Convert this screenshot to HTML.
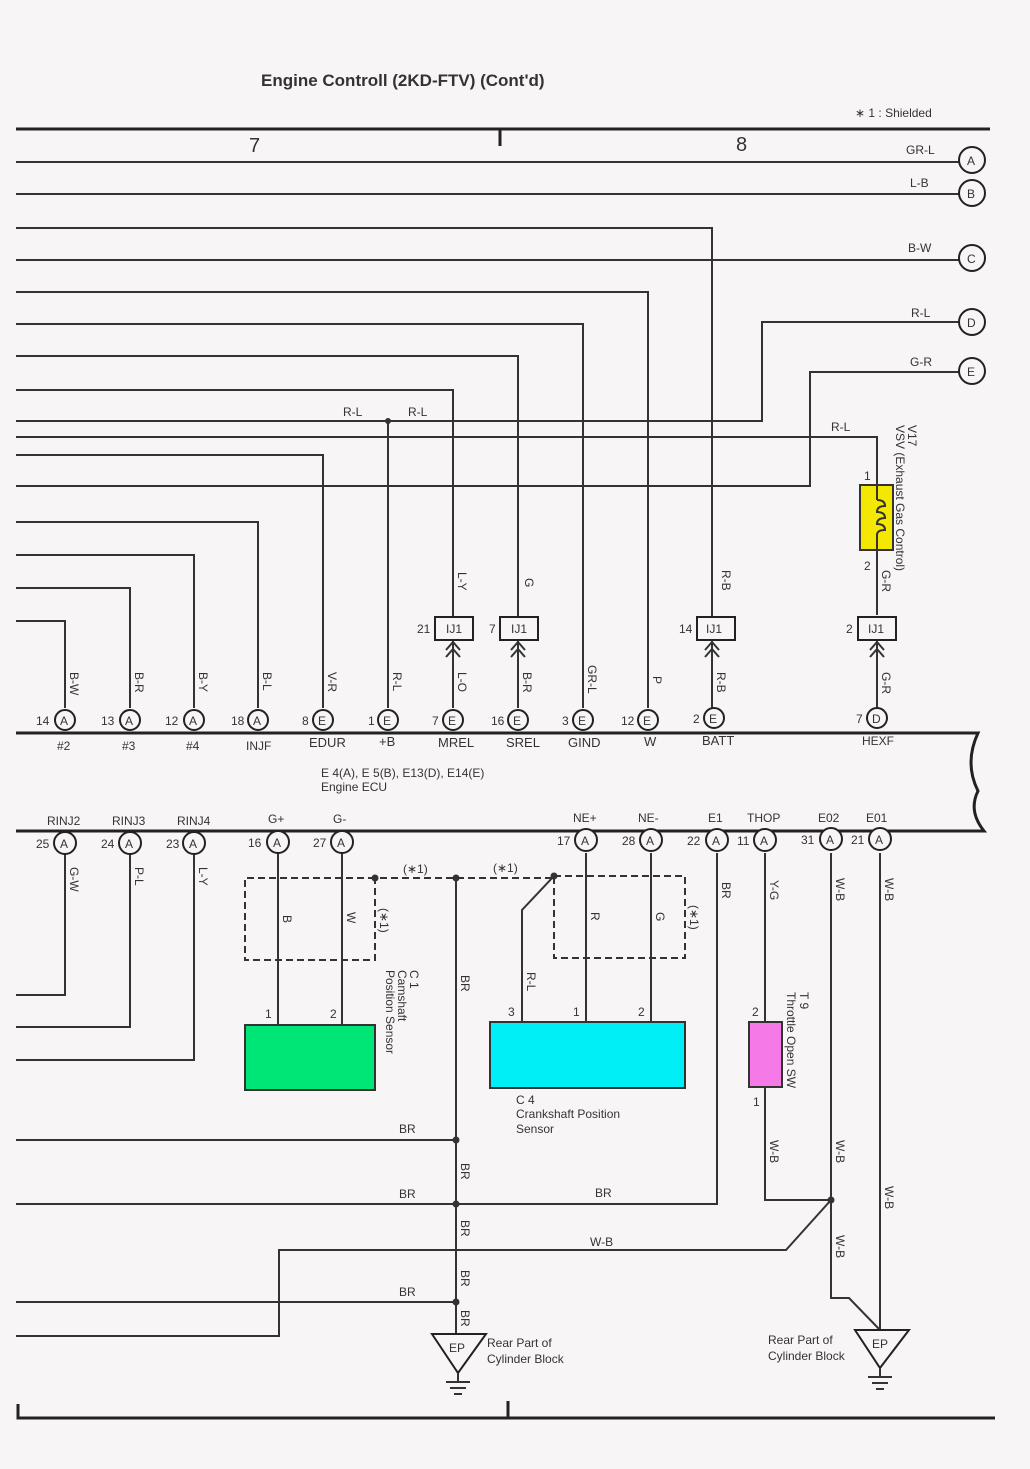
<!DOCTYPE html>
<html><head><meta charset="utf-8"><style>
html,body{margin:0;padding:0;background:#f8f5f6}
svg{display:block}
text{font-family:"Liberation Sans",sans-serif;fill:#333}
.w{stroke:#333;stroke-width:2;fill:none}
.t{stroke:#222;stroke-width:3;fill:none}
.c{stroke:#222;stroke-width:2;fill:#f8f5f6}
.s{font-size:12px}
.m{font-size:13px}
</style></head><body>
<svg width="1030" height="1469" viewBox="0 0 1030 1469" xmlns="http://www.w3.org/2000/svg">
<rect width="1030" height="1469" fill="#f8f5f6"/>
<text x="261" y="86" font-size="17" font-weight="bold" fill="#333">Engine Controll (2KD-FTV) (Cont'd)</text>
<text x="855" y="117" class="s">∗ 1 : Shielded</text>
<line x1="16" y1="129" x2="990" y2="129" class="t"/>
<line x1="500" y1="129" x2="500" y2="146" class="t"/>
<text x="249" y="152" font-size="20">7</text>
<text x="736" y="151" font-size="20">8</text>

<g class="w">
<path d="M16 162H959"/>
<path d="M16 194H959"/>
<path d="M16 228H712V617"/>
<path d="M16 260H959"/>
<path d="M16 292H648V708"/>
<path d="M16 324H583V708"/>
<path d="M959 322H762V421H16"/>
<path d="M16 356H518V617"/>
<path d="M959 372H810V486H16"/>
<path d="M16 390H453V617"/>
<path d="M388 421V708"/>
<path d="M16 437H877V485"/>
<path d="M877 550V615"/>
<path d="M16 455H323V708"/>
<path d="M16 522H258V708"/>
<path d="M16 555H194V708"/>
<path d="M16 588H130V708"/>
<path d="M16 621H65V708"/>
<path d="M453 640V708M518 640V708M712 640V708M877 640V708"/>
</g>
<circle cx="388" cy="421" r="3" fill="#333"/>
<g>
<circle cx="972" cy="160" r="13" class="c"/><text x="967" y="165" class="s">A</text>
<circle cx="972" cy="193" r="13" class="c"/><text x="967" y="198" class="s">B</text>
<circle cx="972" cy="258" r="13" class="c"/><text x="967" y="263" class="s">C</text>
<circle cx="972" cy="322" r="13" class="c"/><text x="967" y="327" class="s">D</text>
<circle cx="972" cy="371" r="13" class="c"/><text x="967" y="376" class="s">E</text>
</g>
<text x="906" y="154" class="s">GR-L</text>
<text x="910" y="187" class="s">L-B</text>
<text x="908" y="252" class="s">B-W</text>
<text x="911" y="317" class="s">R-L</text>
<text x="910" y="366" class="s">G-R</text>
<text x="343" y="416" class="s">R-L</text>
<text x="408" y="416" class="s">R-L</text>
<text x="831" y="431" class="s">R-L</text>

<rect x="860" y="485" width="33" height="65" fill="#f5e800" stroke="#333" stroke-width="2"/>
<path d="M877 485V500M877 535V550M877 500q8 0 8 6q-8 0 -8 6q8 0 8 6q-8 0 -8 6q8 0 8 6q-8 0-8 5" class="w" stroke-width="1.5"/>
<text x="864" y="480" class="s">1</text>
<text x="864" y="570" class="s">2</text>
<text x="908" y="425" class="s" transform="rotate(90 908 425)">V17</text>
<text x="896" y="425" class="s" transform="rotate(90 896 425)">VSV (Exhaust Gas Control)</text>
<text x="882" y="570" class="s" transform="rotate(90 882 570)">G-R</text>
<text x="722" y="570" class="s" transform="rotate(90 722 570)">R-B</text>
<text x="525" y="578" class="s" transform="rotate(90 525 578)">G</text>
<text x="458" y="572" class="s" transform="rotate(90 458 572)">L-Y</text>

<g>
<rect x="435" y="617" width="38" height="23" class="c"/><text x="446" y="633" class="s">IJ1</text><text x="417" y="633" class="s">21</text>
<rect x="500" y="617" width="38" height="23" class="c"/><text x="511" y="633" class="s">IJ1</text><text x="489" y="633" class="s">7</text>
<rect x="697" y="617" width="38" height="23" class="c"/><text x="706" y="633" class="s">IJ1</text><text x="679" y="633" class="s">14</text>
<rect x="858" y="617" width="38" height="23" class="c"/><text x="868" y="633" class="s">IJ1</text><text x="846" y="633" class="s">2</text>
</g>
<g class="w">
<path d="M446 650l7-8 7 8M446 657l7-8 7 8"/>
<path d="M511 650l7-8 7 8M511 657l7-8 7 8"/>
<path d="M705 650l7-8 7 8M705 657l7-8 7 8"/>
<path d="M870 650l7-8 7 8M870 657l7-8 7 8"/>
</g>

<g class="s">
<text x="70" y="672" transform="rotate(90 70 672)">B-W</text>
<text x="135" y="672" transform="rotate(90 135 672)">B-R</text>
<text x="199" y="672" transform="rotate(90 199 672)">B-Y</text>
<text x="263" y="672" transform="rotate(90 263 672)">B-L</text>
<text x="328" y="672" transform="rotate(90 328 672)">V-R</text>
<text x="393" y="672" transform="rotate(90 393 672)">R-L</text>
<text x="458" y="672" transform="rotate(90 458 672)">L-O</text>
<text x="523" y="672" transform="rotate(90 523 672)">B-R</text>
<text x="588" y="665" transform="rotate(90 588 665)">GR-L</text>
<text x="653" y="676" transform="rotate(90 653 676)">P</text>
<text x="717" y="672" transform="rotate(90 717 672)">R-B</text>
<text x="882" y="672" transform="rotate(90 882 672)">G-R</text>
</g>

<path d="M16 733H978q-14 30 0 58q-10 20 6 40H16" fill="#f8f5f6" stroke="#222" stroke-width="3"/>
<g>
<circle cx="65" cy="720" r="10" class="c"/><text x="60" y="725" class="s">A</text><text x="36" y="725" class="s">14</text>
<circle cx="130" cy="720" r="10" class="c"/><text x="125" y="725" class="s">A</text><text x="101" y="725" class="s">13</text>
<circle cx="194" cy="720" r="10" class="c"/><text x="189" y="725" class="s">A</text><text x="165" y="725" class="s">12</text>
<circle cx="258" cy="720" r="10" class="c"/><text x="253" y="725" class="s">A</text><text x="231" y="725" class="s">18</text>
<circle cx="323" cy="720" r="10" class="c"/><text x="318" y="725" class="s">E</text><text x="302" y="725" class="s">8</text>
<circle cx="388" cy="720" r="10" class="c"/><text x="383" y="725" class="s">E</text><text x="368" y="725" class="s">1</text>
<circle cx="453" cy="720" r="10" class="c"/><text x="448" y="725" class="s">E</text><text x="432" y="725" class="s">7</text>
<circle cx="518" cy="720" r="10" class="c"/><text x="513" y="725" class="s">E</text><text x="491" y="725" class="s">16</text>
<circle cx="583" cy="720" r="10" class="c"/><text x="578" y="725" class="s">E</text><text x="562" y="725" class="s">3</text>
<circle cx="648" cy="720" r="10" class="c"/><text x="643" y="725" class="s">E</text><text x="621" y="725" class="s">12</text>
<circle cx="714" cy="718" r="10" class="c"/><text x="709" y="723" class="s">E</text><text x="693" y="723" class="s">2</text>
<circle cx="877" cy="718" r="10" class="c"/><text x="872" y="723" class="s">D</text><text x="856" y="723" class="s">7</text>
</g>
<g class="s">
<text x="57" y="750">#2</text><text x="122" y="750">#3</text><text x="186" y="750">#4</text><text x="246" y="750">INJF</text>
<text x="862" y="745">HEXF</text>
</g>
<g font-size="13">
<text x="309" y="747" fill="#000">EDUR</text><text x="379" y="746" fill="#000">+B</text>
<text x="438" y="747" fill="#000">MREL</text><text x="506" y="747" fill="#000">SREL</text>
<text x="568" y="747" fill="#000">GIND</text><text x="644" y="746" fill="#000">W</text>
<text x="702" y="745" fill="#000">BATT</text>
</g>
<text x="321" y="777" class="s" fill="#555">E 4(A), E 5(B), E13(D), E14(E)</text>
<text x="321" y="791" class="s" fill="#555">Engine ECU</text>
<g class="s">
<text x="47" y="825">RINJ2</text><text x="112" y="825">RINJ3</text><text x="177" y="825">RINJ4</text>
<text x="268" y="823">G+</text><text x="333" y="823">G-</text>
<text x="573" y="822">NE+</text><text x="638" y="822">NE-</text><text x="708" y="822">E1</text>
<text x="747" y="822">THOP</text><text x="818" y="822">E02</text><text x="866" y="822">E01</text>
</g>

<g class="w">
<path d="M65 853V995H16"/>
<path d="M130 853V1027H16"/>
<path d="M194 853V1060H16"/>
<path d="M278 853V1025M342 853V1025"/>
<path d="M456 877V1334"/>
<path d="M586 853V1022M651 853V1022"/>
<path d="M554 876L522 910V1022"/>
<path d="M717 853V1204H16"/>
<path d="M16 1140H456"/>
<path d="M16 1302H456"/>
<path d="M765 853V1022M765 1087V1200H831"/>
<path d="M831 853V1298H849L880 1330"/>
<path d="M880 853V1330"/>
<path d="M831 1200L786 1250H279V1336H16"/>
</g>
<g stroke="#333" stroke-width="2" stroke-dasharray="7,4" fill="none">
<path d="M375 878H245V960H375V878H554"/>
<path d="M554 876H685V958H554Z"/>
</g>
<circle cx="375" cy="878" r="3.5" fill="#333"/>
<circle cx="456" cy="878" r="3.5" fill="#333"/>
<circle cx="554" cy="876" r="3.5" fill="#333"/>
<circle cx="456" cy="1140" r="3.5" fill="#333"/>
<circle cx="456" cy="1204" r="3.5" fill="#333"/>
<circle cx="456" cy="1302" r="3.5" fill="#333"/>
<circle cx="831" cy="1200" r="3.5" fill="#333"/>
<g>
<circle cx="65" cy="843" r="11" class="c"/><text x="60" y="848" class="s">A</text><text x="36" y="848" class="s">25</text>
<circle cx="130" cy="843" r="11" class="c"/><text x="125" y="848" class="s">A</text><text x="101" y="848" class="s">24</text>
<circle cx="194" cy="843" r="11" class="c"/><text x="189" y="848" class="s">A</text><text x="166" y="848" class="s">23</text>
<circle cx="278" cy="842" r="11" class="c"/><text x="273" y="847" class="s">A</text><text x="248" y="847" class="s">16</text>
<circle cx="342" cy="842" r="11" class="c"/><text x="337" y="847" class="s">A</text><text x="313" y="847" class="s">27</text>
<circle cx="586" cy="840" r="11" class="c"/><text x="581" y="845" class="s">A</text><text x="557" y="845" class="s">17</text>
<circle cx="651" cy="840" r="11" class="c"/><text x="646" y="845" class="s">A</text><text x="622" y="845" class="s">28</text>
<circle cx="717" cy="840" r="11" class="c"/><text x="712" y="845" class="s">A</text><text x="687" y="845" class="s">22</text>
<circle cx="765" cy="840" r="11" class="c"/><text x="760" y="845" class="s">A</text><text x="737" y="845" class="s">11</text>
<circle cx="831" cy="839" r="11" class="c"/><text x="826" y="844" class="s">A</text><text x="801" y="844" class="s">31</text>
<circle cx="880" cy="839" r="11" class="c"/><text x="875" y="844" class="s">A</text><text x="851" y="844" class="s">21</text>
</g>
<g class="s">
<text x="70" y="867" transform="rotate(90 70 867)">G-W</text>
<text x="135" y="867" transform="rotate(90 135 867)">P-L</text>
<text x="199" y="867" transform="rotate(90 199 867)">L-Y</text>
<text x="283" y="915" transform="rotate(90 283 915)">B</text>
<text x="347" y="912" transform="rotate(90 347 912)">W</text>
<text x="380" y="908" transform="rotate(90 380 908)">(∗1)</text>
<text x="403" y="873">(∗1)</text><text x="493" y="872">(∗1)</text>
<text x="690" y="905" transform="rotate(90 690 905)">(∗1)</text>
<text x="591" y="912" transform="rotate(90 591 912)">R</text>
<text x="656" y="912" transform="rotate(90 656 912)">G</text>
<text x="527" y="972" transform="rotate(90 527 972)">R-L</text>
<text x="461" y="975" transform="rotate(90 461 975)">BR</text>
<text x="722" y="882" transform="rotate(90 722 882)">BR</text>
<text x="770" y="880" transform="rotate(90 770 880)">Y-G</text>
<text x="836" y="878" transform="rotate(90 836 878)">W-B</text>
<text x="885" y="878" transform="rotate(90 885 878)">W-B</text>
<text x="770" y="1140" transform="rotate(90 770 1140)">W-B</text>
<text x="836" y="1140" transform="rotate(90 836 1140)">W-B</text>
<text x="836" y="1235" transform="rotate(90 836 1235)">W-B</text>
<text x="885" y="1186" transform="rotate(90 885 1186)">W-B</text>
<text x="461" y="1163" transform="rotate(90 461 1163)">BR</text>
<text x="461" y="1220" transform="rotate(90 461 1220)">BR</text>
<text x="461" y="1270" transform="rotate(90 461 1270)">BR</text>
<text x="461" y="1310" transform="rotate(90 461 1310)">BR</text>
<text x="399" y="1133">BR</text><text x="399" y="1198">BR</text><text x="595" y="1197">BR</text>
<text x="590" y="1246">W-B</text><text x="399" y="1296">BR</text>
<text x="410" y="970" transform="rotate(90 410 970)">C 1</text>
<text x="398" y="970" transform="rotate(90 398 970)">Camshaft</text>
<text x="386" y="970" transform="rotate(90 386 970)">Position Sensor</text>
<text x="800" y="992" transform="rotate(90 800 992)">T 9</text>
<text x="787" y="992" transform="rotate(90 787 992)">Throttle Open SW</text>
<text x="516" y="1104">C 4</text>
<text x="516" y="1118">Crankshaft Position</text>
<text x="516" y="1133">Sensor</text>
<text x="265" y="1018">1</text><text x="330" y="1018">2</text>
<text x="508" y="1016">3</text><text x="573" y="1016">1</text><text x="638" y="1016">2</text>
<text x="752" y="1016">2</text><text x="753" y="1106">1</text>
</g>
<rect x="245" y="1025" width="130" height="65" fill="#00e676" stroke="#333" stroke-width="2"/>
<rect x="490" y="1022" width="195" height="66" fill="#00eef5" stroke="#333" stroke-width="2"/>
<rect x="749" y="1022" width="33" height="65" fill="#f57ae8" stroke="#333" stroke-width="2"/>

<path d="M432 1334H486L458 1373Z" class="c"/>
<text x="449" y="1352" class="s">EP</text>
<path d="M458 1373V1382M446 1382H470M450 1388H466M454 1394H462" class="w"/>
<text x="487" y="1347" class="s">Rear Part of</text>
<text x="487" y="1363" class="s">Cylinder Block</text>
<path d="M855 1330H909L880 1368Z" class="c"/>
<text x="872" y="1348" class="s">EP</text>
<path d="M880 1368V1377M868 1377H892M872 1383H888M876 1389H884" class="w"/>
<text x="768" y="1344" class="s">Rear Part of</text>
<text x="768" y="1360" class="s">Cylinder Block</text>

<path d="M18 1404V1418H995" class="t"/>
<line x1="508" y1="1401" x2="508" y2="1418" class="t"/>
</svg>
</body></html>
